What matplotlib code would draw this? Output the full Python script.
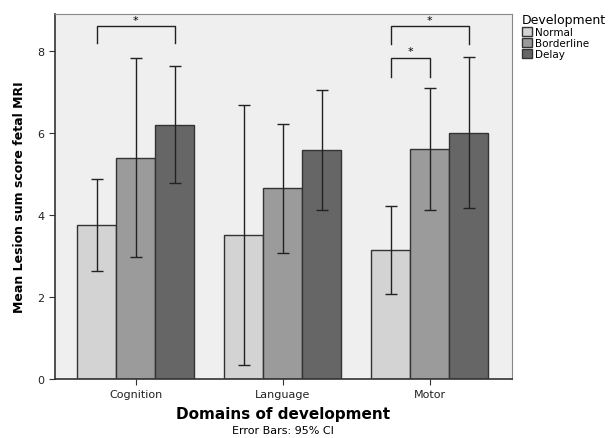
import numpy as np
from matplotlib import pyplot as plt
from matplotlib.patches import Patch

# Data
domains = ['Cognition', 'Language', 'Motor']
groups = ['Normal', 'Borderline', 'Delay']
means = {
    'Normal': [3.75, 3.50, 3.15],
    'Borderline': [5.40, 4.65, 5.62],
    'Delay': [6.20, 5.58, 6.00],
}
ci_low = {
    'Normal': [2.63, 0.33, 2.08],
    'Borderline': [2.98, 3.07, 4.13],
    'Delay': [4.78, 4.12, 4.17],
}
ci_high = {
    'Normal': [4.88, 6.67, 4.22],
    'Borderline': [7.83, 6.22, 7.10],
    'Delay': [7.63, 7.05, 7.85],
}
colors = ['#d3d3d3', '#9b9b9b', '#666666']

fig = plt.figure(figsize=(6.09, 4.39), dpi=100)
ax = fig.add_axes([0.0903, 0.1344, 0.7504, 0.8314])
ax.set_facecolor('#efefef')

x = np.arange(len(domains))
width = 0.265
for i, g in enumerate(groups):
    pos = x + (i - 1) * width
    m = np.array(means[g])
    err = [m - np.array(ci_low[g]), np.array(ci_high[g]) - m]
    ax.bar(pos, m, width, color=colors[i], edgecolor='#333333', linewidth=1.0, zorder=2)
    ax.errorbar(pos, m, yerr=err, fmt='none', ecolor='#222222', elinewidth=1.0,
                capsize=4, capthick=1.0, zorder=3)

# Significance brackets
def bracket(x1, x2, y_top, y_leg):
    ax.plot([x1, x1, x2, x2], [y_leg, y_top, y_top, y_leg], color='#222222', lw=1.0,
            zorder=3, clip_on=False)
    ax.text((x1 + x2) / 2, y_top + 0.04, '*', ha='center', va='bottom', fontsize=8)

bracket(x[0] - width, x[0] + width, 8.6, 8.2)
bracket(x[2] - width, x[2] + width, 8.6, 8.17)
bracket(x[2] - width, x[2], 7.83, 7.37)

ax.set_xlim(-0.55, 2.56)
ax.set_ylim(0, 8.9)
ax.set_yticks([0, 2, 4, 6, 8])
ax.set_xticks(x)
ax.set_xticklabels(domains, fontsize=8)
ax.tick_params(axis='y', labelsize=8, colors='#333333', length=4)
ax.tick_params(axis='x', length=4, colors='#333333')
for lbl in ax.get_xticklabels() + ax.get_yticklabels():
    lbl.set_color('#222222')
for s in ['top', 'right']:
    ax.spines[s].set_color('#888888')
for s in ['left', 'bottom']:
    ax.spines[s].set_color('#333333')
    ax.spines[s].set_linewidth(1.2)

ax.set_xlabel('Domains of development', fontsize=11, fontweight='bold', labelpad=5)
ax.set_ylabel('Mean Lesion sum score fetal MRI', fontsize=9, fontweight='bold', labelpad=8)
fig.text(0.465, 0.006, 'Error Bars: 95% CI', ha='center', va='bottom', fontsize=8)

handles = [Patch(facecolor=c, edgecolor='#333333', label=g) for g, c in zip(groups, colors)]
leg = fig.legend(handles=handles, title='Development', loc='upper left',
                 bbox_to_anchor=(0.845, 0.985), frameon=False, fontsize=7.5,
                 title_fontsize=9, handlelength=1.0, handleheight=0.9,
                 handletextpad=0.3, labelspacing=0.1, borderpad=0.2)
leg._legend_box.align = 'left'

plt.savefig('out.png', dpi=100)
